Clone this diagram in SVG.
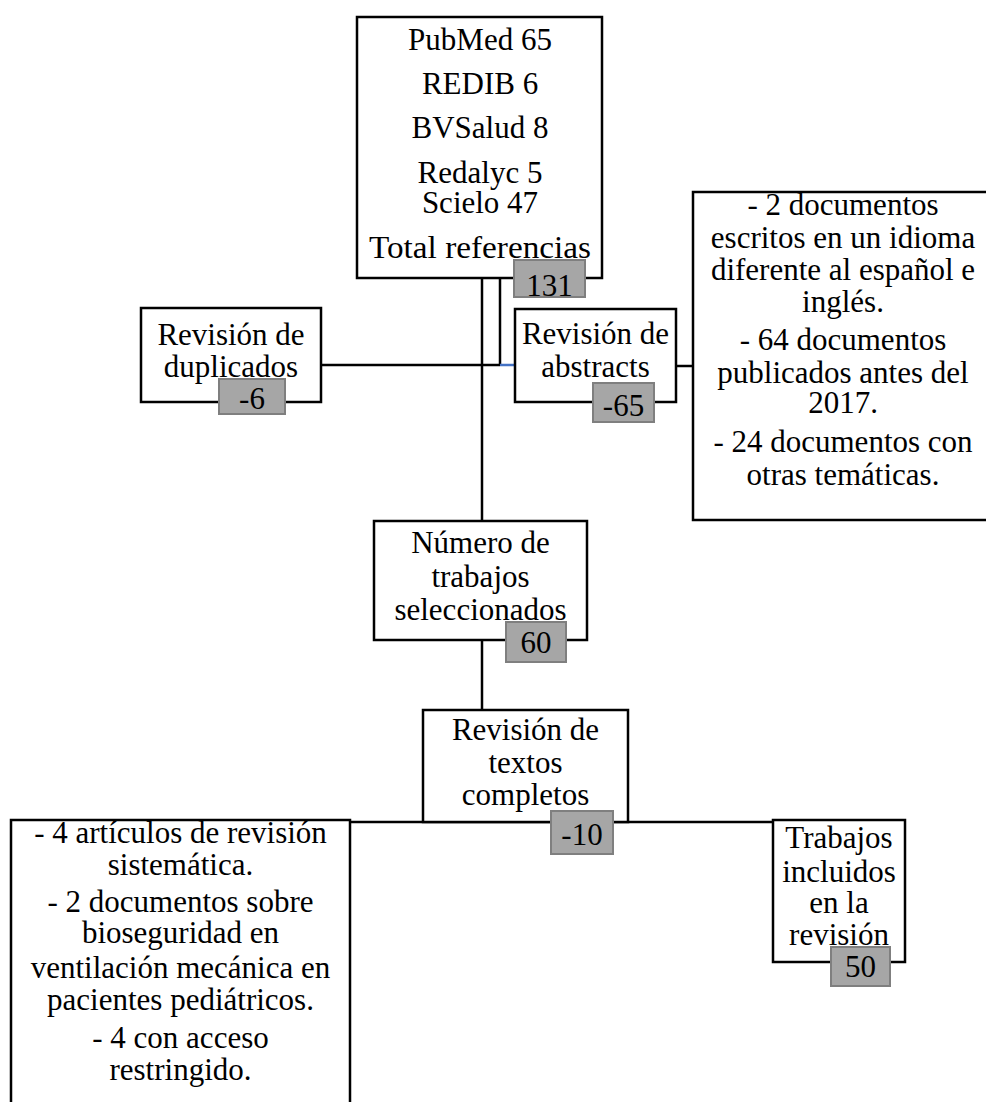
<svg xmlns="http://www.w3.org/2000/svg" width="986" height="1102" viewBox="0 0 986 1102">
<style>
.box{fill:#fff;stroke:#000;stroke-width:2.5}
.badge{fill:#a6a6a6;stroke:#7f7f7f;stroke-width:2}
.t{font-family:"Liberation Serif","Times New Roman",serif;font-size:31px;fill:#000;text-anchor:middle}
.ln{stroke:#000;stroke-width:2.5;fill:none}
</style>
<rect width="986" height="1102" fill="#fff"/>
<g id="connectors">
<line class="ln" x1="482" y1="278" x2="482" y2="520"/>
<line class="ln" x1="500" y1="278" x2="500" y2="365"/>
<line class="ln" x1="321" y1="365" x2="500" y2="365"/>
<line x1="500" y1="365" x2="515" y2="365" stroke="#4472c4" stroke-width="2.5"/>
<line class="ln" x1="676" y1="366" x2="693" y2="366"/>
<line class="ln" x1="482" y1="640" x2="482" y2="710"/>
<line class="ln" x1="350" y1="822" x2="773" y2="822"/>
</g>
<g id="node-total">
<rect class="box" x="357" y="17" width="245" height="261"/>
<text class="t" x="480" y="50">PubMed 65</text>
<text class="t" x="480" y="94">REDIB 6</text>
<text class="t" x="480" y="138">BVSalud 8</text>
<text class="t" x="480" y="183">Redalyc 5</text>
<text class="t" x="480" y="213">Scielo 47</text>
<text class="t" x="480" y="258" textLength="222" lengthAdjust="spacingAndGlyphs">Total referencias</text>
<rect class="badge" x="514" y="260" width="71" height="37"/>
<text class="t" x="549.5" y="296">131</text>
</g>
<g id="node-duplicados">
<rect class="box" x="141" y="308" width="180" height="94"/>
<text class="t" x="231" y="345">Revisión de</text>
<text class="t" x="231" y="377">duplicados</text>
<rect class="badge" x="219" y="379" width="66" height="35"/>
<text class="t" x="252" y="409">-6</text>
</g>
<g id="node-abstracts">
<rect class="box" x="515" y="309" width="161" height="93"/>
<text class="t" x="595.5" y="344">Revisión de</text>
<text class="t" x="595.5" y="377">abstracts</text>
<rect class="badge" x="593" y="383" width="61" height="39"/>
<text class="t" x="623.5" y="416">-65</text>
</g>
<g id="node-exclusion1">
<rect class="box" x="693" y="192" width="300" height="328"/>
<text class="t" x="843" y="215">- 2 documentos</text>
<text class="t" x="843" y="248">escritos en un idioma</text>
<text class="t" x="843" y="280">diferente al español e</text>
<text class="t" x="843" y="312">inglés.</text>
<text class="t" x="843" y="350">- 64 documentos</text>
<text class="t" x="843" y="383">publicados antes del</text>
<text class="t" x="843" y="413">2017.</text>
<text class="t" x="843" y="452">- 24 documentos con</text>
<text class="t" x="843" y="485">otras temáticas.</text>
</g>
<g id="node-seleccionados">
<rect class="box" x="374" y="521" width="213" height="119"/>
<text class="t" x="480.5" y="553">Número de</text>
<text class="t" x="480.5" y="587">trabajos</text>
<text class="t" x="480.5" y="620">seleccionados</text>
<rect class="badge" x="506" y="622" width="60" height="40"/>
<text class="t" x="536" y="653">60</text>
</g>
<g id="node-textos">
<rect class="box" x="423" y="710" width="205" height="112"/>
<text class="t" x="525.5" y="740">Revisión de</text>
<text class="t" x="525.5" y="773">textos</text>
<text class="t" x="525.5" y="805">completos</text>
<rect class="badge" x="551" y="811" width="62" height="43"/>
<text class="t" x="582" y="845">-10</text>
</g>
<g id="node-exclusion2">
<rect class="box" x="11" y="820" width="339" height="300"/>
<text class="t" x="180.5" y="843">- 4 artículos de revisión</text>
<text class="t" x="180.5" y="875">sistemática.</text>
<text class="t" x="180.5" y="912">- 2 documentos sobre</text>
<text class="t" x="180.5" y="943">bioseguridad en</text>
<text class="t" x="180.5" y="978">ventilación mecánica en</text>
<text class="t" x="180.5" y="1010">pacientes pediátricos.</text>
<text class="t" x="180.5" y="1048">- 4 con acceso</text>
<text class="t" x="180.5" y="1080">restringido.</text>
</g>
<g id="node-incluidos">
<rect class="box" x="773" y="820" width="132" height="142"/>
<text class="t" x="839" y="848">Trabajos</text>
<text class="t" x="839" y="882">incluidos</text>
<text class="t" x="839" y="913">en la</text>
<text class="t" x="839" y="945">revisión</text>
<rect class="badge" x="831" y="947" width="59" height="39"/>
<text class="t" x="860.5" y="977">50</text>
</g>
</svg>
